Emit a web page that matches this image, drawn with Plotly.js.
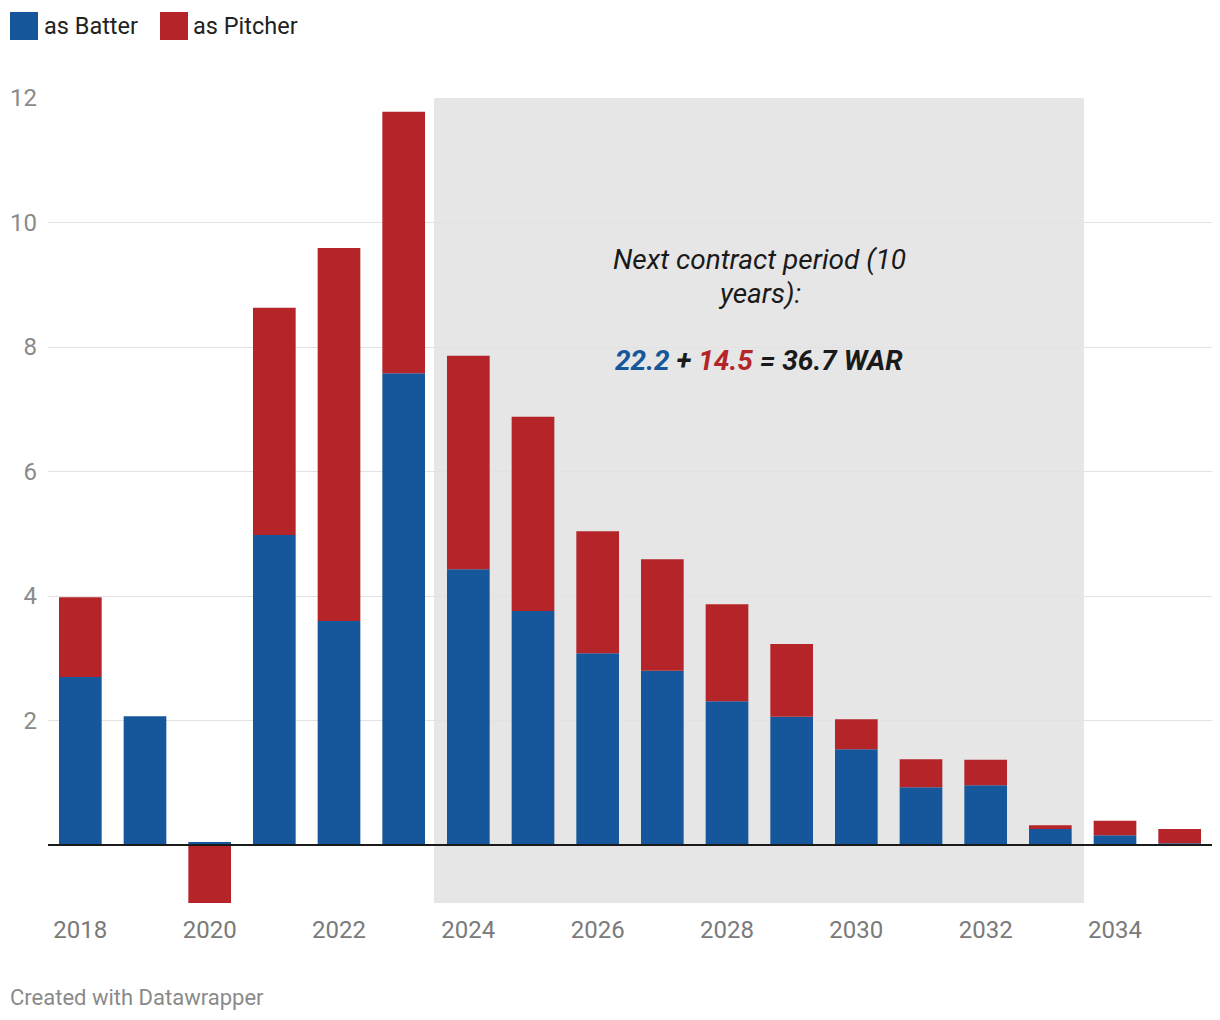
<!DOCTYPE html>
<html>
<head>
<meta charset="utf-8">
<script src="https://cdn.plot.ly/plotly-3.0.1.min.js"></script>
<style>html,body{margin:0;padding:0;background:#fff;}#chart{width:1220px;height:1020px;}</style>
</head>
<body>
<div id="chart"></div>
<script>
var years = [2018,2019,2020,2021,2022,2023,2024,2025,2026,2027,2028,2029,2030,2031,2032,2033,2034,2035];
var batter = [2.70,2.07,0.05,4.98,3.60,7.58,4.43,3.76,3.08,2.80,2.31,2.06,1.54,0.93,0.96,0.26,0.16,0.03];
var pitcher = [1.28,0,-0.93,3.65,5.99,4.20,3.43,3.12,1.96,1.79,1.56,1.17,0.48,0.45,0.41,0.06,0.23,0.23];
var seriesNames = ["as Batter","as Pitcher"];
var contractStart = 2024, contractEnd = 2033;
var yTicks = [2,4,6,8,10,12];
var xTicks = [2018,2020,2022,2024,2026,2028,2030,2032,2034];
var annoLine1 = "Next contract period (10";
var annoLine2 = "years):";
var sumBatter = "22.2", sumPitcher = "14.5", sumTotal = "36.7 WAR";

var blue = "#15579a", red = "#b42428";
var font = "Roboto, 'Open Sans', sans-serif";

var traces = [
  {type:"bar", x:years, y:batter, name:seriesNames[0], marker:{color:blue}, width:0.66, hoverinfo:"x+y"},
  {type:"bar", x:years, y:pitcher, name:seriesNames[1], marker:{color:red}, width:0.66, hoverinfo:"x+y"}
];

var W = 1164, H = 805, T = 98, L = 48;
function px(x){ return (x - L) / W; }
function py(y){ return (T + H - y) / H; }
var midX = (contractStart + contractEnd) / 2;

var layout = {
  width:1220, height:1020,
  margin:{l:48, r:8, t:98, b:117},
  paper_bgcolor:"#fff", plot_bgcolor:"#fff",
  barmode:"relative", bargap:0.34,
  showlegend:false,
  font:{family:font, color:"#333"},
  xaxis:{range:[2017.5,2035.5], tickvals:xTicks, ticktext:xTicks.map(String), showgrid:false, zeroline:false, showline:false, ticks:"", tickfont:{size:24, color:"#7a7a7a"}, ticklabelstandoff:10, fixedrange:true},
  yaxis:{range:[-0.93,12], tickvals:yTicks, ticktext:yTicks.map(String), showgrid:true, gridcolor:"#e2e2e2", gridwidth:1, zeroline:true, zerolinecolor:"#1a1a1a", zerolinewidth:2, zerolinelayer:"above traces", showline:false, ticks:"", tickfont:{size:24, color:"#8a8a8a"}, ticklabelstandoff:10, fixedrange:true},
  shapes:[
    {type:"rect", xref:"x", yref:"paper", x0:contractStart-0.53, x1:contractEnd+0.52, y0:0, y1:1, fillcolor:"#e6e6e6", line:{width:0}, layer:"between"},
    {type:"rect", xref:"paper", yref:"paper", x0:px(10), x1:px(38), y0:py(12), y1:py(40), fillcolor:blue, line:{width:0}},
    {type:"rect", xref:"paper", yref:"paper", x0:px(160), x1:px(188), y0:py(12), y1:py(40), fillcolor:red, line:{width:0}}
  ],
  annotations:[
    {xref:"x", yref:"paper", x:midX, y:py(259), xanchor:"center", yanchor:"middle", showarrow:false,
     text:"<i>"+annoLine1+"</i>", font:{size:28, color:"#1a1a1a", family:font}},
    {xref:"x", yref:"paper", x:midX, y:py(293), xanchor:"center", yanchor:"middle", showarrow:false,
     text:"<i>"+annoLine2+"</i>", font:{size:28, color:"#1a1a1a", family:font}},
    {xref:"x", yref:"paper", x:midX, y:py(360), xanchor:"center", yanchor:"middle", showarrow:false,
     text:"<b><i><span style='color:"+blue+"'>"+sumBatter+"</span> + <span style='color:"+red+"'>"+sumPitcher+"</span> = "+sumTotal+"</i></b>",
     font:{size:28, color:"#1a1a1a", family:font}},
    {xref:"paper", yref:"paper", x:px(42), y:py(26), xanchor:"left", yanchor:"middle", showarrow:false, text:seriesNames[0], font:{size:23.5, color:"#222"}},
    {xref:"paper", yref:"paper", x:px(191), y:py(26), xanchor:"left", yanchor:"middle", showarrow:false, text:seriesNames[1], font:{size:23.5, color:"#222"}},
    {xref:"paper", yref:"paper", x:px(8), y:py(997), xanchor:"left", yanchor:"middle", showarrow:false, text:"Created with Datawrapper", font:{size:22, color:"#8a8a8a"}}
  ]
};

Plotly.newPlot("chart", traces, layout, {displayModeBar:false, staticPlot:true});
</script>
</body>
</html>
